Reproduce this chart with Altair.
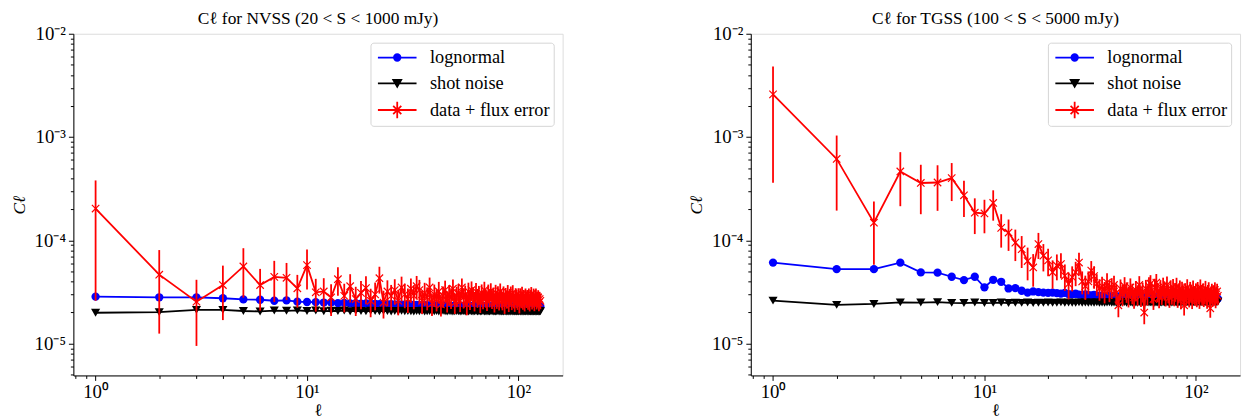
import altair as alt
import pandas as pd

# ---------------- data (C_ell values in units of 1e-5) ----------------
ell = list(range(1, 128))

SERIES = ["lognormal", "shot noise", "data + flux error"]
COLORS = ["#0000ff", "#000000", "#ff0000"]

nvss_lognormal = [
    2.85, 2.81, 2.80, 2.75, 2.68, 2.66, 2.60, 2.62, 2.55, 2.53,
    2.52, 2.50, 2.51, 2.47, 2.48, 2.45, 2.46, 2.44, 2.45, 2.42,
    2.43, 2.41, 2.42, 2.40, 2.41, 2.39, 2.40, 2.38, 2.39, 2.37,
    2.38, 2.36, 2.37, 2.36, 2.35, 2.36, 2.34, 2.35, 2.34, 2.33,
    2.34, 2.33, 2.34, 2.32, 2.33, 2.32, 2.33, 2.31, 2.32, 2.31,
    2.32, 2.30, 2.31, 2.32, 2.30, 2.31, 2.30, 2.31, 2.29, 2.30,
    2.31, 2.29, 2.30, 2.29, 2.30, 2.28, 2.30, 2.29, 2.30, 2.28,
    2.29, 2.30, 2.28, 2.29, 2.28, 2.30, 2.29, 2.28, 2.29, 2.28,
    2.29, 2.27, 2.29, 2.28, 2.29, 2.27, 2.28, 2.29, 2.27, 2.28,
    2.28, 2.27, 2.29, 2.28, 2.27, 2.28, 2.27, 2.28, 2.29, 2.27,
    2.28, 2.27, 2.28, 2.27, 2.28, 2.27, 2.29, 2.27, 2.28, 2.27,
    2.28, 2.27, 2.28, 2.26, 2.28, 2.27, 2.28, 2.27, 2.26, 2.28,
    2.27, 2.28, 2.27, 2.26, 2.28, 2.27, 2.28,
]
nvss_shot = [
    1.99, 2.02, 2.12, 2.12, 2.07, 2.05, 2.09, 2.08, 2.10, 2.07,
    2.09, 2.06, 2.08, 2.07, 2.09, 2.06, 2.08, 2.07, 2.06, 2.08,
    2.07, 2.06, 2.08, 2.07, 2.05, 2.07, 2.06, 2.08, 2.06, 2.07,
    2.06, 2.05, 2.07, 2.06, 2.08, 2.05, 2.06, 2.07, 2.05, 2.06,
    2.07, 2.05, 2.06, 2.08, 2.06, 2.05, 2.07, 2.06, 2.05, 2.06,
    2.07, 2.06, 2.05, 2.06, 2.07, 2.05, 2.06, 2.05, 2.07, 2.06,
    2.05, 2.06, 2.07, 2.05, 2.06, 2.05, 2.06, 2.07, 2.05, 2.06,
    2.05, 2.06, 2.05, 2.07, 2.06, 2.05, 2.06, 2.05, 2.06, 2.07,
    2.05, 2.06, 2.05, 2.06, 2.05, 2.07, 2.06, 2.05, 2.06, 2.05,
    2.06, 2.05, 2.07, 2.05, 2.06, 2.05, 2.06, 2.05, 2.06, 2.05,
    2.07, 2.05, 2.06, 2.05, 2.06, 2.05, 2.06, 2.05, 2.07, 2.05,
    2.06, 2.05, 2.06, 2.05, 2.06, 2.05, 2.06, 2.05, 2.06, 2.05,
    2.06, 2.05, 2.06, 2.05, 2.06, 2.05, 2.06,
]
nvss_data = [
    20.3, 4.65, 2.55, 3.69, 5.59, 3.69, 4.43, 4.34, 3.43, 5.75,
    3.14, 3.20, 2.80, 4.20, 2.90, 3.60, 2.70, 3.10, 3.45, 2.60,
    3.00, 4.30, 2.50, 3.20, 2.90, 3.30, 2.60, 3.50, 3.00, 2.70,
    3.40, 2.90, 3.60, 3.30, 2.60, 3.10, 2.80, 3.50, 2.45, 3.00,
    2.70, 3.20, 2.40, 2.90, 3.30, 2.60, 3.00, 2.80, 3.40, 2.50,
    2.90, 3.10, 2.60, 3.50, 2.80, 3.00, 2.40, 3.20, 2.70, 3.30,
    2.90, 2.60, 3.20, 2.80, 3.00, 2.50, 3.10, 2.70, 3.30, 2.80,
    2.60, 3.10, 2.80, 3.20, 2.70, 2.90, 2.50, 3.10, 2.70, 3.00,
    2.60, 3.20, 2.80, 2.60, 3.00, 2.40, 2.90, 2.70, 3.10, 2.50,
    2.80, 3.00, 2.60, 3.10, 2.70, 2.50, 2.90, 2.80, 2.60, 2.90,
    2.40, 2.90, 2.70, 3.00, 2.60, 2.80, 2.50, 2.90, 2.70, 2.80,
    2.60, 2.90, 2.50, 2.80, 3.00, 2.60, 2.70, 2.90, 2.50, 2.80,
    2.90, 2.60, 2.70, 2.80, 2.50, 2.70, 2.60,
]
nvss_err = [
    17.7, 3.40, 1.60, 2.00, 2.80, 1.60, 1.90, 1.70, 1.20, 2.40,
    1.10, 1.10, 0.95, 1.30, 0.90, 1.10, 0.85, 0.95, 1.05, 0.80,
    0.90, 1.25, 0.75, 0.90, 0.80, 0.90, 0.72, 0.95, 0.80, 0.72,
    0.88, 0.75, 0.92, 0.84, 0.66, 0.78, 0.70, 0.86, 0.60, 0.73,
    0.65, 0.76, 0.57, 0.68, 0.77, 0.60, 0.69, 0.64, 0.77, 0.56,
    0.65, 0.69, 0.58, 0.77, 0.61, 0.65, 0.52, 0.69, 0.58, 0.70,
    0.61, 0.55, 0.67, 0.58, 0.62, 0.52, 0.64, 0.55, 0.67, 0.57,
    0.53, 0.63, 0.56, 0.64, 0.54, 0.58, 0.50, 0.61, 0.53, 0.59,
    0.51, 0.62, 0.54, 0.50, 0.58, 0.46, 0.56, 0.52, 0.59, 0.48,
    0.53, 0.57, 0.49, 0.58, 0.51, 0.47, 0.54, 0.52, 0.48, 0.54,
    0.44, 0.53, 0.50, 0.55, 0.47, 0.51, 0.45, 0.52, 0.49, 0.50,
    0.47, 0.52, 0.45, 0.50, 0.53, 0.46, 0.48, 0.51, 0.44, 0.49,
    0.51, 0.46, 0.47, 0.49, 0.44, 0.47, 0.45,
]

tgss_lognormal = [
    6.09, 5.26, 5.26, 6.09, 4.89, 4.87, 4.44, 4.12, 4.44, 3.51,
    4.15, 3.97, 3.42, 3.45, 3.25, 3.12, 3.20, 3.15, 3.12, 3.10,
    3.12, 3.08, 3.05, 3.10, 3.02, 3.00, 3.04, 2.98, 2.96, 3.00,
    2.95, 2.93, 2.96, 2.92, 2.90, 2.92, 2.88, 2.90, 2.87, 2.86,
    2.88, 2.85, 2.87, 2.84, 2.86, 2.83, 2.85, 2.84, 2.82, 2.84,
    2.83, 2.81, 2.83, 2.82, 2.80, 2.82, 2.81, 2.80, 2.82, 2.79,
    2.81, 2.80, 2.79, 2.81, 2.78, 2.80, 2.79, 2.78, 2.80, 2.77,
    2.79, 2.78, 2.77, 2.79, 2.78, 2.76, 2.78, 2.77, 2.76, 2.78,
    2.77, 2.76, 2.78, 2.75, 2.77, 2.76, 2.75, 2.77, 2.76, 2.74,
    2.76, 2.75, 2.74, 2.76, 2.75, 2.74, 2.76, 2.74, 2.75, 2.73,
    2.75, 2.74, 2.73, 2.75, 2.74, 2.73, 2.74, 2.72, 2.74, 2.73,
    2.72, 2.74, 2.73, 2.72, 2.73, 2.72, 2.74, 2.72, 2.73, 2.71,
    2.73, 2.72, 2.71, 2.73, 2.72, 2.71, 2.73,
]
tgss_shot = [
    2.61, 2.37, 2.42, 2.51, 2.50, 2.52, 2.48, 2.47, 2.50, 2.47,
    2.48, 2.50, 2.47, 2.49, 2.48, 2.50, 2.47, 2.49, 2.48, 2.50,
    2.48, 2.49, 2.51, 2.48, 2.50, 2.49, 2.48, 2.51, 2.49, 2.50,
    2.48, 2.50, 2.49, 2.51, 2.48, 2.50, 2.49, 2.50, 2.51, 2.49,
    2.50, 2.48, 2.51, 2.49, 2.50, 2.52, 2.49, 2.50, 2.51, 2.49,
    2.51, 2.50, 2.49, 2.52, 2.50, 2.51, 2.49, 2.50, 2.52, 2.50,
    2.51, 2.50, 2.52, 2.49, 2.51, 2.50, 2.52, 2.51, 2.50, 2.52,
    2.50, 2.51, 2.53, 2.50, 2.51, 2.52, 2.50, 2.52, 2.51, 2.53,
    2.51, 2.52, 2.50, 2.53, 2.51, 2.52, 2.51, 2.53, 2.52, 2.51,
    2.53, 2.52, 2.51, 2.53, 2.52, 2.54, 2.51, 2.53, 2.52, 2.54,
    2.52, 2.53, 2.54, 2.52, 2.53, 2.52, 2.54, 2.53, 2.52, 2.54,
    2.53, 2.54, 2.52, 2.54, 2.53, 2.55, 2.53, 2.54, 2.53, 2.55,
    2.54, 2.53, 2.55, 2.54, 2.53, 2.55, 2.54,
]
tgss_data = [
    259.0, 61.4, 14.8, 46.4, 35.9, 36.3, 40.0, 27.3, 18.5, 18.2,
    23.0, 13.2, 11.9, 9.5, 8.2, 6.3, 5.46, 9.2, 7.1, 6.4,
    4.9, 5.7, 5.9, 4.54, 3.78, 4.4, 4.9, 6.1, 4.0, 3.6,
    4.0, 5.1, 4.5, 3.8, 3.4, 3.6, 3.2, 3.9, 3.3, 3.5,
    3.7, 3.1, 2.35, 3.4, 3.0, 3.6, 3.2, 2.9, 3.5, 3.1,
    2.8, 3.3, 3.0, 3.7, 2.9, 3.2, 2.0, 3.4, 3.0, 3.6,
    3.8, 3.1, 2.7, 3.5, 3.9, 3.2, 2.8, 3.4, 3.0, 3.6,
    3.3, 2.9, 3.7, 3.1, 2.8, 3.4, 3.0, 3.5, 2.9, 3.2,
    3.6, 2.8, 3.1, 3.4, 2.7, 3.3, 3.0, 2.35, 3.2, 2.9,
    3.5, 3.0, 2.8, 3.3, 3.1, 2.7, 3.4, 3.0, 2.9, 3.2,
    2.8, 3.3, 3.0, 2.7, 3.5, 3.1, 2.9, 3.2, 2.8, 3.0,
    3.4, 2.9, 2.7, 3.1, 3.3, 2.8, 2.2, 3.0, 3.2, 2.8,
    3.1, 2.9, 3.3, 2.7, 3.0, 3.2, 2.9,
]
tgss_err = [
    223.0, 42.0, 9.0, 25.0, 18.0, 17.0, 16.0, 10.5, 7.0, 6.5,
    7.5, 4.7, 4.0, 3.2, 2.8, 2.2, 1.9, 2.6, 2.1, 1.9,
    1.5, 1.6, 1.6, 1.3, 1.1, 1.2, 1.3, 1.5, 1.0, 0.95,
    1.0, 1.2, 1.1, 0.9, 0.8, 0.85, 0.75, 0.9, 0.78, 0.8,
    0.85, 0.72, 0.55, 0.78, 0.7, 0.8, 0.72, 0.66, 0.78, 0.7,
    0.63, 0.74, 0.67, 0.8, 0.64, 0.7, 0.46, 0.74, 0.66, 0.78,
    0.8, 0.66, 0.58, 0.74, 0.82, 0.68, 0.6, 0.72, 0.63, 0.75,
    0.69, 0.61, 0.77, 0.65, 0.58, 0.7, 0.62, 0.72, 0.6, 0.66,
    0.74, 0.58, 0.64, 0.69, 0.55, 0.67, 0.61, 0.48, 0.65, 0.59,
    0.7, 0.6, 0.56, 0.66, 0.62, 0.54, 0.68, 0.6, 0.58, 0.63,
    0.55, 0.65, 0.59, 0.53, 0.68, 0.6, 0.56, 0.62, 0.54, 0.58,
    0.65, 0.56, 0.52, 0.59, 0.63, 0.53, 0.42, 0.57, 0.6, 0.53,
    0.58, 0.54, 0.62, 0.5, 0.56, 0.59, 0.54,
]

# ---------------- styling ----------------
FONT = "Liberation Serif"
FS = 17.5
TICK_FS = 19
XDOM = [0.785, 161.8]
YDOM = [4.92e-6, 1e-2]
W, H = 494, 345

x_ticks = [k * 10.0 ** e for e in range(-1, 3) for k in range(1, 10)
           if XDOM[0] <= k * 10.0 ** e <= XDOM[1]]
y_ticks = [k * 10.0 ** e for e in range(-6, -1) for k in range(1, 10)
           if YDOM[0] <= k * 10.0 ** e <= YDOM[1] * 1.0001]

MAJOR = "abs(log(datum.value)/LN10 - round(log(datum.value)/LN10)) < 0.001"
SUPMAP = {"-": "\u207b", "0": "\u2070", "1": "\u00b9", "2": "\u00b2", "3": "\u00b3",
          "4": "\u2074", "5": "\u2075", "6": "\u2076"}


def sup(e):
    return "".join(SUPMAP[c] for c in str(e))


def label_expr(exps):
    expr = "''"
    for e in exps:
        expr = f"(({MAJOR}) && round(log(datum.value)/LN10) == {e}) ? '10{sup(e)}' : {expr}"
    return expr


def make_axis(values, exps, title, title_pad, style, label_pad):
    return alt.Axis(
        values=values, labelExpr=label_expr(exps), title=title,
        tickSize={"condition": {"test": MAJOR, "value": 5}, "value": 3},
        tickColor="black", tickWidth=1, domainColor="black", domainWidth=1,
        labelColor="black", labelFont=FONT, labelFontSize=TICK_FS, labelPadding=label_pad,
        labelFlush=False, labelOverlap=False, grid=False,
        titleFont=FONT, titleFontSize=FS, titleFontWeight="normal",
        titleFontStyle=style, titleColor="black", titlePadding=title_pad,
    )


XAXIS = make_axis(x_ticks, [0, 1, 2], "\u2113", 0, "normal", 2)
YAXIS = make_axis(y_ticks, [-5, -4, -3, -2], "C\u2113", 6, "italic", 3)

# legend glyphs: line + marker (drawn with strokes so they look filled)
LEG_PATHS = [
    "M-2,0L2,0"
    "M-0.34,0A0.34,0.34 0 1,0 0.34,0A0.34,0.34 0 1,0 -0.34,0Z"
    "M-0.16,0A0.16,0.16 0 1,0 0.16,0A0.16,0.16 0 1,0 -0.16,0Z",
    "M-2,0L2,0"
    "M-0.41,-0.36L0.41,-0.36L0,0.36Z"
    "M-0.2,-0.24L0.2,-0.24L0,0.12Z",
    "M-2,0L2,0M0,-0.85L0,0.85M-0.42,-0.42L0.42,0.42M-0.42,0.42L0.42,-0.42",
]
X_PATH = "M-1,-1L1,1M-1,1L1,-1"


def panel(title, logn, shot, data, err):
    df = pd.DataFrame({
        "ell": ell,
        "logn": [v * 1e-5 for v in logn],
        "shot": [v * 1e-5 for v in shot],
        "data": [v * 1e-5 for v in data],
        "err": [v * 1e-5 for v in err],
    })
    df["lo"] = df["data"] - df["err"]
    df["hi"] = df["data"] + df["err"]

    X = alt.X("ell:Q", scale=alt.Scale(type="log", domain=XDOM, nice=False), axis=XAXIS)

    def Y(f):
        return alt.Y(f"{f}:Q", scale=alt.Scale(type="log", domain=YDOM, nice=False), axis=YAXIS)

    base = alt.Chart(df)
    blue_line = base.mark_line(color="#0000ff", strokeWidth=1.8).encode(x=X, y=Y("logn"))
    blue_pts = base.mark_point(shape="circle", filled=True, color="#0000ff", size=70,
                               opacity=1).encode(x=X, y=Y("logn"))
    black_line = base.mark_line(color="#000000", strokeWidth=1.8).encode(x=X, y=Y("shot"))
    black_pts = base.mark_point(shape="triangle-down", filled=True, color="#000000",
                                size=85, opacity=1).encode(x=X, y=Y("shot"))
    errbar = base.mark_rule(color="#ff0000", strokeWidth=1.8).encode(
        x=X, y=Y("lo"), y2=alt.Y2("hi"))
    red_line = base.mark_line(color="#ff0000", strokeWidth=1.8).encode(x=X, y=Y("data"))
    red_pts = base.mark_point(shape=X_PATH, filled=False, color="#ff0000", size=56,
                              strokeWidth=1.2, opacity=1).encode(x=X, y=Y("data"))

    legend = alt.Legend(
        orient="top-right", offset=9, padding=4, symbolSize=380,
        symbolStrokeWidth=1.8, symbolOffset=12, labelOffset=22,
        labelFont=FONT, labelFontSize=18.5, labelColor="black", rowPadding=5,
        strokeColor="#d5d5d5", cornerRadius=3, fillColor="rgba(255,255,255,0.8)",
        labelLimit=0,
    )
    # legend-only layer: its points sit outside the scale domain and are clipped away
    leg_df = pd.DataFrame({"series": SERIES, "lx": [1e-3] * 3, "ly": [1e-9] * 3})
    dummy = alt.Chart(leg_df).mark_point(filled=True, opacity=1, clip=True).encode(
        x=alt.X("lx:Q", scale=alt.Scale(type="log", domain=XDOM, nice=False), axis=XAXIS),
        y=alt.Y("ly:Q", scale=alt.Scale(type="log", domain=YDOM, nice=False), axis=YAXIS),
        fill=alt.Fill("series:N", scale=alt.Scale(domain=SERIES, range=COLORS),
                      legend=legend, title=None),
        stroke=alt.Stroke("series:N", scale=alt.Scale(domain=SERIES, range=COLORS),
                          legend=legend, title=None),
        shape=alt.Shape("series:N", scale=alt.Scale(domain=SERIES, range=LEG_PATHS),
                        legend=legend, title=None),
    )

    return alt.layer(
        blue_line, blue_pts, black_line, black_pts, errbar, red_line, red_pts, dummy
    ).properties(
        width=W, height=H,
        title=alt.TitleParams(title, font=FONT, fontSize=FS, fontWeight="normal",
                              color="black", frame="group", anchor="middle",
                              offset=0, dy=3),
    )


left = panel("C\u2113 for NVSS (20 < S < 1000 mJy)",
             nvss_lognormal, nvss_shot, nvss_data, nvss_err)
right = panel("C\u2113 for TGSS (100 < S < 5000 mJy)",
              tgss_lognormal, tgss_shot, tgss_data, tgss_err)

chart = alt.hconcat(left, right, spacing=124).resolve_scale(
    fill="independent", stroke="independent", shape="independent"
).configure_view(stroke="black", strokeWidth=1).configure(background="white").properties(
    padding={"left": 1, "top": 0, "right": 5, "bottom": 0}
)

chart.save("out.html", embed_options={"renderer": "svg", "actions": False})
